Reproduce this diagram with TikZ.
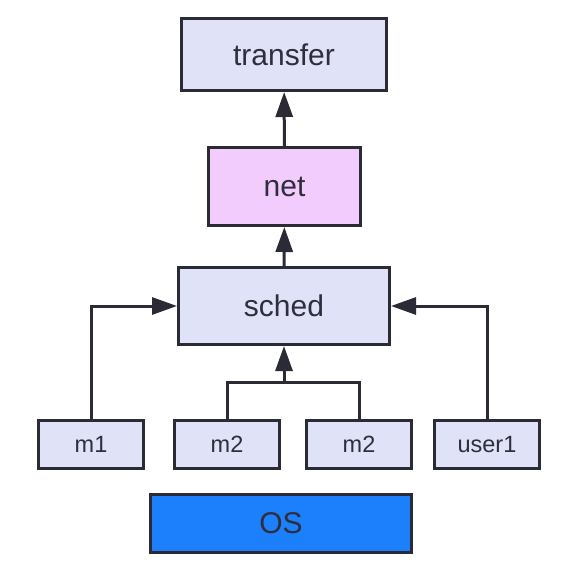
\documentclass[tikz,border=0pt]{standalone}
\usepackage{fontspec}
\setmainfont{Liberation Sans}
\usetikzlibrary{arrows.meta}
\definecolor{boxfill}{HTML}{E0E2F7}
\definecolor{netfill}{HTML}{F1CCFC}
\definecolor{osfill}{HTML}{1C7FFC}
\definecolor{stroke}{HTML}{2B2B36}
\definecolor{txt}{HTML}{2E2E3C}
\begin{document}
\begin{tikzpicture}[x=1pt,y=1pt,
  bigbox/.style={draw=stroke, line width=3pt, fill=boxfill, inner sep=0pt,
    text=txt, font=\fontsize{30}{35}\selectfont},
  smallbox/.style={draw=stroke, line width=3pt, fill=boxfill, inner sep=0pt,
    minimum width=105pt, minimum height=48pt,
    text=txt, font=\fontsize{23.5}{27}\selectfont},
  conn/.style={draw=stroke, line width=3pt, -{Triangle[length=25pt,width=17pt]}},
  plain/.style={draw=stroke, line width=3pt}]
\useasboundingbox (0,0) rectangle (572,-573);
\node[bigbox, minimum width=205pt, minimum height=72pt] (transfer) at (284,-54.5) {transfer};
\node[bigbox, fill=netfill, minimum width=152pt, minimum height=78pt] (net) at (284.5,-186.5) {net};
\node[bigbox, minimum width=211pt, minimum height=77pt] (sched) at (284,-306) {sched};
\node[smallbox] (m1) at (91,-444.5) {m1};
\node[smallbox] (m2a) at (227,-444.5) {m2};
\node[smallbox] (m2b) at (359,-444.5) {m2};
\node[smallbox] (user1) at (487,-444.5) {user1};
\node[bigbox, fill=osfill, minimum width=261pt, minimum height=58pt] (os) at (281,-523.5) {OS};
\coordinate (join) at (284,-382);
\draw[conn] (net) -- (transfer);
\draw[conn] (sched) -- (net);
\draw[conn] (m1.north) |- (sched.west);
\draw[conn] (user1.north) |- (sched.east);
\draw[plain] (m2a.north) |- (join);
\draw[plain] (m2b.north) |- (join);
\draw[conn] (join) -- (sched.south);
\end{tikzpicture}
\end{document}
